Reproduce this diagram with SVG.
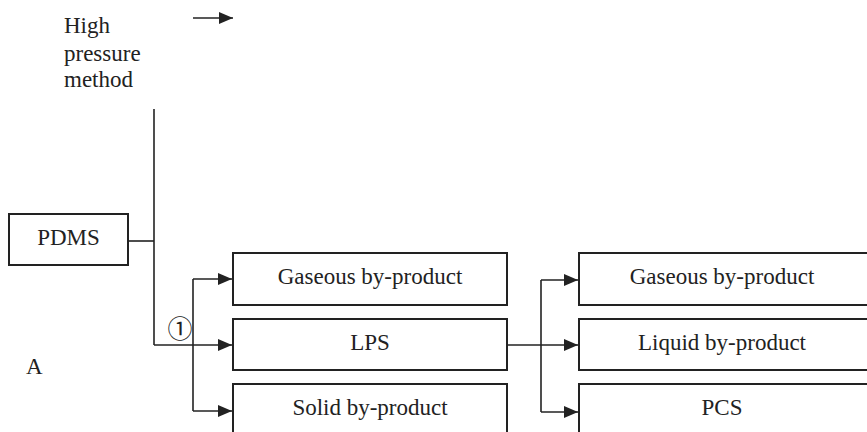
<svg xmlns="http://www.w3.org/2000/svg" width="867" height="432" viewBox="0 0 867 432">
<style>
.box{fill:#fff;stroke:#222;stroke-width:2}
.t{font-family:"Liberation Serif","Times New Roman",serif;font-size:23px;fill:#222}
.c{text-anchor:middle}
.ln{fill:none;stroke:#222;stroke-width:1.6}
</style>
<defs>
<marker id="ah" viewBox="0 0 14 12" refX="14" refY="6" markerWidth="14" markerHeight="12" markerUnits="userSpaceOnUse" orient="auto">
<path d="M0,0 L14,6 L0,12 Z" fill="#222"/>
</marker>
</defs>
<rect width="867" height="432" fill="#fff"/>
<g id="legend">
<line class="ln" x1="193" y1="18" x2="233" y2="18" marker-end="url(#ah)"/>
</g>
<g id="high-pressure">
<text class="t" x="64" y="33">High</text>
<text class="t" x="64" y="61">pressure</text>
<text class="t" x="64" y="87">method</text>
</g>
<g id="label-A"><text class="t" x="26" y="374">A</text></g>
<g id="pdms">
<rect class="box" x="9" y="214" width="119" height="51"/>
<text class="t c" x="68.5" y="245">PDMS</text>
</g>
<g id="gas1">
<rect class="box" x="233" y="253" width="274" height="52"/>
<text class="t c" x="370" y="284">Gaseous by-product</text>
</g>
<g id="lps">
<rect class="box" x="233" y="319" width="274" height="51"/>
<text class="t c" x="370" y="350">LPS</text>
</g>
<g id="solid">
<rect class="box" x="233" y="384" width="274" height="60"/>
<text class="t c" x="370" y="415">Solid by-product</text>
</g>
<g id="gas2">
<rect class="box" x="579" y="253" width="300" height="52"/>
<text class="t c" x="722" y="284">Gaseous by-product</text>
</g>
<g id="liquid">
<rect class="box" x="579" y="319" width="300" height="51"/>
<text class="t c" x="722" y="350">Liquid by-product</text>
</g>
<g id="pcs">
<rect class="box" x="579" y="384" width="300" height="60"/>
<text class="t c" x="722" y="415">PCS</text>
</g>
<g id="marker-1">
<text x="180" y="338" text-anchor="middle" font-family="'Liberation Serif','DejaVu Serif','Noto Sans CJK SC',serif" font-size="25" fill="#222">①</text>
</g>
<g id="connectors">
<line class="ln" x1="154" y1="109" x2="154" y2="345"/>
<line class="ln" x1="128" y1="241" x2="154" y2="241"/>
<line class="ln" x1="154" y1="345" x2="232" y2="345" marker-end="url(#ah)"/>
<line class="ln" x1="193" y1="279" x2="193" y2="411"/>
<line class="ln" x1="193" y1="279" x2="232" y2="279" marker-end="url(#ah)"/>
<line class="ln" x1="193" y1="411" x2="232" y2="411" marker-end="url(#ah)"/>
<line class="ln" x1="507" y1="345" x2="578" y2="345" marker-end="url(#ah)"/>
<line class="ln" x1="541" y1="280" x2="541" y2="412"/>
<line class="ln" x1="541" y1="280" x2="578" y2="280" marker-end="url(#ah)"/>
<line class="ln" x1="541" y1="412" x2="578" y2="412" marker-end="url(#ah)"/>
</g>
</svg>
